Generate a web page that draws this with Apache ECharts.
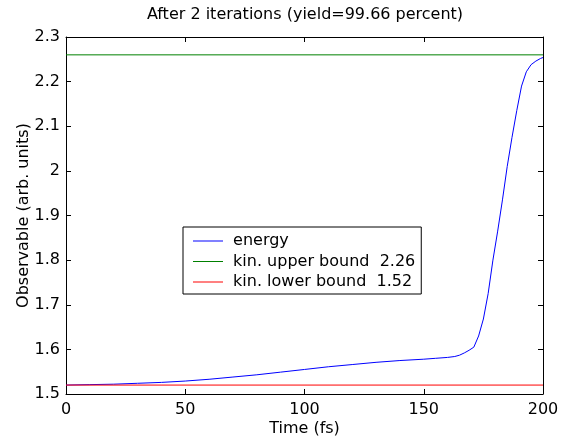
<!DOCTYPE html>
<html>
<head>
<meta charset="utf-8">
<script src="https://cdn.jsdelivr.net/npm/echarts@6/dist/echarts.min.js"></script>
<style>
  html, body { margin: 0; padding: 0; background: #fff; }
  #chart { width: 561px; height: 441px; }
</style>
</head>
<body>
<div id="chart"></div>
<script>
// data
const timeFs = [0, 10, 20, 30, 40, 50, 60, 70, 80, 90, 100, 110, 120, 130, 140, 150, 155, 160, 163, 165,
  167, 169, 171, 173, 175, 177, 179, 181, 183, 185, 187, 189, 191, 193, 195, 197, 199, 200];
const energy = [1.520, 1.521, 1.522, 1.524, 1.526, 1.529, 1.533, 1.538, 1.543, 1.549, 1.555, 1.561, 1.566,
  1.571, 1.575, 1.578, 1.580, 1.582, 1.584, 1.587, 1.592, 1.598, 1.605, 1.630, 1.668, 1.725, 1.800, 1.865,
  1.935, 2.010, 2.075, 2.135, 2.190, 2.222, 2.238, 2.246, 2.252, 2.254];
const upperBound = 2.26;
const lowerBound = 1.52;
const xRange = [0, 200];
const yRange = [1.5, 2.3];
const seriesNames = ['energy', 'kin. upper bound  2.26', 'kin. lower bound  1.52'];
const lineColors = ['#0000ff', '#008000', '#ff0000'];

const font = 'DejaVu Sans';
const chart = echarts.init(document.getElementById('chart'));

const energyData = timeFs.map((t, i) => [t, energy[i]]);
const upperData = xRange.map(t => [t, upperBound]);
const lowerData = xRange.map(t => [t, lowerBound]);

// plain line sample in the legend, no marker
const lineIcon = 'path://M0,0 L30,0 L30,1 L0,1 Z';

const boxAxis = {
  axisLine: { show: true, onZero: false, lineStyle: { color: '#000', width: 1 } },
  axisTick: { show: true, inside: true, length: 5, lineStyle: { color: '#000' } },
  splitLine: { show: false }
};

const option = {
  animation: false,
  backgroundColor: '#fff',
  title: {
    text: 'After 2 iterations (yield=99.66 percent)',
    left: 305,
    top: 7,
    padding: 0,
    textAlign: 'center',
    textStyle: { fontFamily: font, fontSize: 16, fontWeight: 'normal', color: '#000' }
  },
  grid: { left: 66, right: 18, top: 37, bottom: 47, outerBoundsMode: 'none' },
  legend: {
    data: seriesNames.map((n, i) => ({
      name: n, icon: lineIcon,
      itemStyle: { color: lineColors[i], borderWidth: 0 }
    })),
    orient: 'vertical',
    left: 183,
    top: 227,
    padding: [5, 6, 3, 10],
    itemWidth: 30,
    itemHeight: 1,
    itemGap: 2.5,
    borderColor: '#000',
    borderWidth: 1,
    backgroundColor: '#fff',
    borderRadius: 0,
    formatter: name => ' ' + name,
    textStyle: { fontFamily: font, fontSize: 16, lineHeight: 18, color: '#000' }
  },
  xAxis: [
    Object.assign({
      type: 'value', min: xRange[0], max: xRange[1], interval: 50,
      name: 'Time (fs)', nameLocation: 'middle', nameGap: 27, nameMoveOverlap: false,
      nameTextStyle: { fontFamily: font, fontSize: 16, color: '#000' },
      axisLabel: { fontFamily: font, fontSize: 16, color: '#000', margin: 8 }
    }, boxAxis),
    Object.assign({
      type: 'value', position: 'top', min: xRange[0], max: xRange[1], interval: 50,
      axisLabel: { show: false }
    }, boxAxis)
  ],
  yAxis: [
    Object.assign({
      type: 'value', min: yRange[0], max: yRange[1], interval: 0.1,
      name: 'Observable (arb. units)', nameLocation: 'middle', nameGap: 34, nameMoveOverlap: false,
      nameTextStyle: { fontFamily: font, fontSize: 16, color: '#000' },
      axisLabel: { fontFamily: font, fontSize: 16, color: '#000', margin: 6 }
    }, boxAxis),
    Object.assign({
      type: 'value', position: 'right', min: yRange[0], max: yRange[1], interval: 0.1,
      axisLabel: { show: false }
    }, boxAxis)
  ],
  series: [
    {
      name: seriesNames[0], type: 'line', data: energyData,
      symbol: 'none', lineStyle: { color: lineColors[0], width: 1 }, itemStyle: { color: lineColors[0] }
    },
    {
      name: seriesNames[1], type: 'line', data: upperData,
      symbol: 'none', lineStyle: { color: lineColors[1], width: 1 }, itemStyle: { color: lineColors[1] }
    },
    {
      name: seriesNames[2], type: 'line', data: lowerData,
      symbol: 'none', lineStyle: { color: lineColors[2], width: 1 }, itemStyle: { color: lineColors[2] }
    }
  ]
};

chart.setOption(option);
</script>
</body>
</html>
